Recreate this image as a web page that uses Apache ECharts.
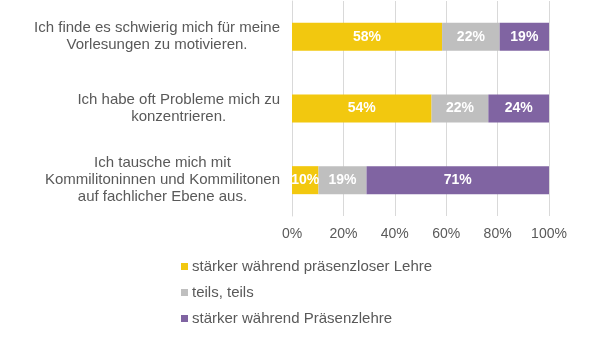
<!DOCTYPE html>
<html>
<head>
<meta charset="utf-8">
<script src="https://cdn.jsdelivr.net/npm/echarts@6/dist/echarts.min.js"></script>
<style>html,body{margin:0;padding:0;background:#fff;}#c{width:592px;height:338px;}</style>
</head>
<body>
<div id="c"></div>
<script>
const categories = [
  "Ich finde es schwierig mich für meine\nVorlesungen zu motivieren.",
  "Ich habe oft Probleme mich zu\nkonzentrieren.",
  "Ich tausche mich mit\nKommilitoninnen und Kommilitonen\nauf fachlicher Ebene aus."
];
const seriesNames = ["stärker während präsenzloser Lehre", "teils, teils", "stärker während Präsenzlehre"];
const valuesPraesenzlos = [58.4, 54.3, 10.3];
const valuesTeils = [22.4, 22.1, 18.7];
const valuesPraesenz = [19.2, 23.6, 71.0];
const colors = ["#F2C80F", "#BFBFBF", "#8064A2"];
const font = "Liberation Sans, Arial, sans-serif";

const chart = echarts.init(document.getElementById('c'));
const mk = (name, data, color) => ({
  name, type: 'bar', stack: 'total', data, barWidth: 28,
  itemStyle: { color },
  label: {
    show: true, position: 'inside', color: '#fff', fontWeight: 'bold',
    fontSize: 14, fontFamily: font,
    formatter: p => Math.round(p.value) + '%'
  }
});
chart.setOption({
  animation: false,
  grid: { left: 292, right: 43, top: 1, bottom: 122, containLabel: false },
  xAxis: {
    type: 'value', min: 0, max: 100, interval: 20,
    axisLine: { show: false }, axisTick: { show: false },
    splitLine: { lineStyle: { color: '#D9D9D9', width: 1 } },
    axisLabel: { formatter: '{value}%', color: '#595959', fontSize: 14, fontFamily: font, margin: 11 }
  },
  yAxis: {
    type: 'category', data: categories, inverse: true,
    axisLine: { show: true, lineStyle: { color: '#D9D9D9' } },
    axisTick: { show: false },
    axisLabel: {
      margin: 12, color: '#595959', fontSize: 15, fontFamily: font, lineHeight: 17,
      align: 'right',
      formatter: v => '{a|' + v.split('\n').join('}\n{a|') + '}',
      rich: { a: { align: 'center', color: '#595959', fontSize: 15, fontFamily: font, lineHeight: 17 } }
    }
  },
  legend: {
    orient: 'vertical', left: 176, top: 254, itemWidth: 7, itemHeight: 7, itemGap: 11,
    icon: 'rect',
    textStyle: { color: '#595959', fontSize: 15, fontFamily: font, padding: [0, 0, 0, -1] },
    data: seriesNames
  },
  series: [
    mk(seriesNames[0], valuesPraesenzlos, colors[0]),
    mk(seriesNames[1], valuesTeils, colors[1]),
    mk(seriesNames[2], valuesPraesenz, colors[2])
  ]
});
</script>
</body>
</html>
